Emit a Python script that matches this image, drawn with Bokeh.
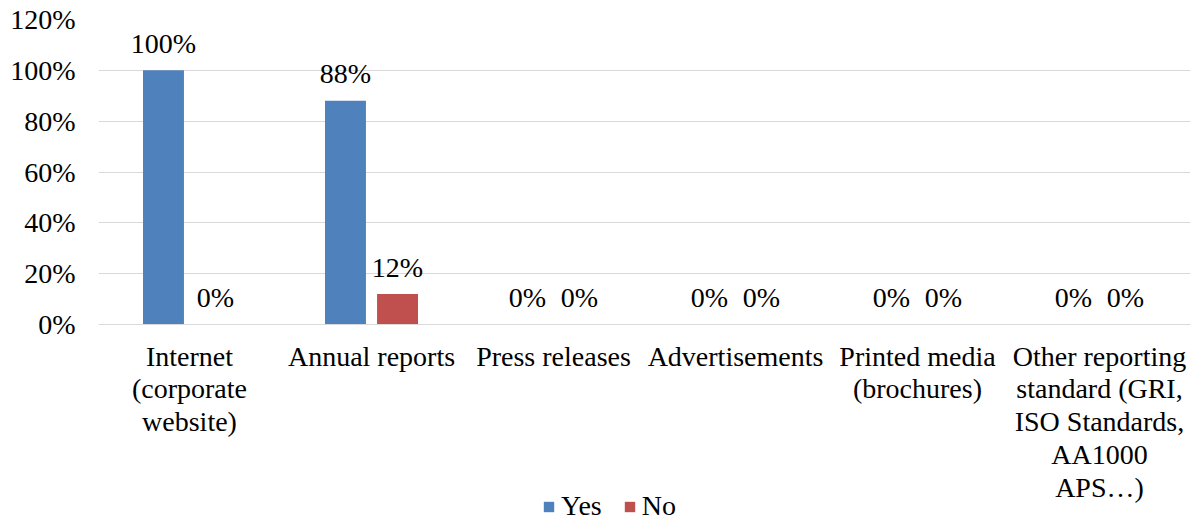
from bokeh.plotting import figure
from bokeh.models import (FactorRange, Range1d, FixedTicker, NumeralTickFormatter,
                          ColumnDataSource, Legend, LegendItem)
from bokeh.transform import dodge
from bokeh.core.properties import value
from bokeh.embed import file_html
from bokeh.resources import INLINE

categories = [
    "Internet\n(corporate\nwebsite)",
    "Annual reports",
    "Press releases",
    "Advertisements",
    "Printed media\n(brochures)",
    "Other reporting\nstandard (GRI,\nISO Standards,\nAA1000\nAPS…)",
]
yes = [1.00, 0.88, 0.0, 0.0, 0.0, 0.0]
no = [0.0, 0.12, 0.0, 0.0, 0.0, 0.0]
y_ticks = [0, 0.2, 0.4, 0.6, 0.8, 1.0, 1.2]
series_names = ["Yes", "No"]
colors = ["#4F81BD", "#C0504D"]

FONT = "Liberation Serif"
FS = "28px"

src = ColumnDataSource(dict(
    cat=categories,
    yes=yes,
    no=no,
    yes_lbl=[f"{round(v * 100)}%" for v in yes],
    no_lbl=[f"{round(v * 100)}%" for v in no],
))

# frame spans the whole height below the top border; 0 sits 198px above the bottom
p = figure(width=1192, height=522, x_range=FactorRange(*categories),
           y_range=Range1d(-0.779, 1.2), output_backend="svg", toolbar_location=None,
           min_border_left=98, min_border_right=2, min_border_top=19,
           min_border_bottom=0)

off = 0.143
bw = 0.225
r_yes = p.vbar(x=dodge("cat", -off, range=p.x_range), top="yes", bottom=0, width=bw,
               source=src, fill_color=colors[0], line_color=None)
r_no = p.vbar(x=dodge("cat", off, range=p.x_range), top="no", bottom=0, width=bw,
              source=src, fill_color=colors[1], line_color=None)

for col, lbl, o in (("yes", "yes_lbl", -off), ("no", "no_lbl", off)):
    p.text(x=dodge("cat", o, range=p.x_range), y=col, text=lbl, source=src,
           text_font=value(FONT), text_font_size=FS, text_align="center",
           text_baseline="alphabetic", y_offset=-27, text_color="black")

p.yaxis.ticker = FixedTicker(ticks=y_ticks)
p.yaxis.formatter = NumeralTickFormatter(format="0%")
p.ygrid.ticker = FixedTicker(ticks=y_ticks)
p.ygrid.grid_line_color = "#D9D9D9"
p.xgrid.grid_line_color = None
p.outline_line_color = None

for ax in (p.xaxis, p.yaxis):
    ax.major_label_text_font = FONT
    ax.major_label_text_font_size = FS
    ax.major_label_text_color = "black"
    ax.major_tick_line_color = None
    ax.minor_tick_line_color = None

p.yaxis.axis_line_color = None
p.yaxis.major_label_standoff = 17
p.xaxis.fixed_location = 0
p.xaxis.axis_line_color = "#D9D9D9"
p.xaxis.major_label_standoff = 10
p.xaxis.major_label_orientation = "horizontal"
p.xaxis.major_label_text_line_height = 1.06

legend = Legend(items=[LegendItem(label=series_names[0], renderers=[r_yes]),
                       LegendItem(label=series_names[1], renderers=[r_no])],
                orientation="horizontal", location=(444, 0),
                glyph_width=13, glyph_height=13, label_standoff=6, spacing=21,
                padding=0, margin=0, border_line_color=None,
                background_fill_alpha=0, label_text_font=FONT,
                label_text_font_size=FS, label_text_color="black")
p.add_layout(legend, "center")

open("out.html", "w").write(file_html(p, INLINE))
